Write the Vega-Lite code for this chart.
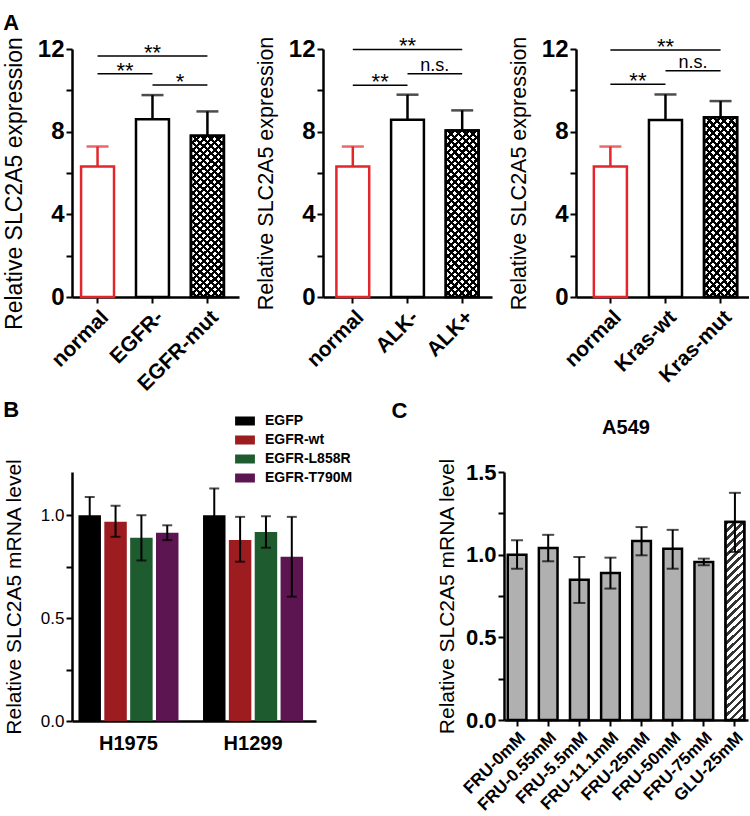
{
"$schema": "https://vega.github.io/schema/vega-lite/v6.json",
"background": "white",
"padding": {"left": 3, "top": 12, "right": 0, "bottom": 0},
"spacing": 4,
"columns": 1,
"align": "none",
"resolve": {"scale": {"color": "independent", "stroke": "independent"}, "legend": {"color": "independent", "stroke": "independent"}},
"params": [
{"name": "hs", "value": [
{"offset":0,"color":"#000"},{"offset":0.0156,"color":"#000"},{"offset":0.0156,"color":"#0000"},{"offset":0.037,"color":"#0000"},
{"offset":0.037,"color":"#000"},{"offset":0.0526,"color":"#000"},{"offset":0.0526,"color":"#0000"},{"offset":0.0741,"color":"#0000"},
{"offset":0.0741,"color":"#000"},{"offset":0.0897,"color":"#000"},{"offset":0.0897,"color":"#0000"},{"offset":0.1111,"color":"#0000"},
{"offset":0.1111,"color":"#000"},{"offset":0.1267,"color":"#000"},{"offset":0.1267,"color":"#0000"},{"offset":0.1481,"color":"#0000"},
{"offset":0.1481,"color":"#000"},{"offset":0.1637,"color":"#000"},{"offset":0.1637,"color":"#0000"},{"offset":0.1852,"color":"#0000"},
{"offset":0.1852,"color":"#000"},{"offset":0.2008,"color":"#000"},{"offset":0.2008,"color":"#0000"},{"offset":0.2222,"color":"#0000"},
{"offset":0.2222,"color":"#000"},{"offset":0.2378,"color":"#000"},{"offset":0.2378,"color":"#0000"},{"offset":0.2593,"color":"#0000"},
{"offset":0.2593,"color":"#000"},{"offset":0.2749,"color":"#000"},{"offset":0.2749,"color":"#0000"},{"offset":0.2963,"color":"#0000"},
{"offset":0.2963,"color":"#000"},{"offset":0.3119,"color":"#000"},{"offset":0.3119,"color":"#0000"},{"offset":0.3333,"color":"#0000"},
{"offset":0.3333,"color":"#000"},{"offset":0.3489,"color":"#000"},{"offset":0.3489,"color":"#0000"},{"offset":0.3704,"color":"#0000"},
{"offset":0.3704,"color":"#000"},{"offset":0.386,"color":"#000"},{"offset":0.386,"color":"#0000"},{"offset":0.4074,"color":"#0000"},
{"offset":0.4074,"color":"#000"},{"offset":0.423,"color":"#000"},{"offset":0.423,"color":"#0000"},{"offset":0.4444,"color":"#0000"},
{"offset":0.4444,"color":"#000"},{"offset":0.46,"color":"#000"},{"offset":0.46,"color":"#0000"},{"offset":0.4815,"color":"#0000"},
{"offset":0.4815,"color":"#000"},{"offset":0.4971,"color":"#000"},{"offset":0.4971,"color":"#0000"},{"offset":0.5185,"color":"#0000"},
{"offset":0.5185,"color":"#000"},{"offset":0.5341,"color":"#000"},{"offset":0.5341,"color":"#0000"},{"offset":0.5556,"color":"#0000"},
{"offset":0.5556,"color":"#000"},{"offset":0.5712,"color":"#000"},{"offset":0.5712,"color":"#0000"},{"offset":0.5926,"color":"#0000"},
{"offset":0.5926,"color":"#000"},{"offset":0.6082,"color":"#000"},{"offset":0.6082,"color":"#0000"},{"offset":0.6296,"color":"#0000"},
{"offset":0.6296,"color":"#000"},{"offset":0.6452,"color":"#000"},{"offset":0.6452,"color":"#0000"},{"offset":0.6667,"color":"#0000"},
{"offset":0.6667,"color":"#000"},{"offset":0.6823,"color":"#000"},{"offset":0.6823,"color":"#0000"},{"offset":0.7037,"color":"#0000"},
{"offset":0.7037,"color":"#000"},{"offset":0.7193,"color":"#000"},{"offset":0.7193,"color":"#0000"},{"offset":0.7407,"color":"#0000"},
{"offset":0.7407,"color":"#000"},{"offset":0.7563,"color":"#000"},{"offset":0.7563,"color":"#0000"},{"offset":0.7778,"color":"#0000"},
{"offset":0.7778,"color":"#000"},{"offset":0.7934,"color":"#000"},{"offset":0.7934,"color":"#0000"},{"offset":0.8148,"color":"#0000"},
{"offset":0.8148,"color":"#000"},{"offset":0.8304,"color":"#000"},{"offset":0.8304,"color":"#0000"},{"offset":0.8519,"color":"#0000"},
{"offset":0.8519,"color":"#000"},{"offset":0.8675,"color":"#000"},{"offset":0.8675,"color":"#0000"},{"offset":0.8889,"color":"#0000"},
{"offset":0.8889,"color":"#000"},{"offset":0.9045,"color":"#000"},{"offset":0.9045,"color":"#0000"},{"offset":0.9259,"color":"#0000"},
{"offset":0.9259,"color":"#000"},{"offset":0.9415,"color":"#000"},{"offset":0.9415,"color":"#0000"},{"offset":0.963,"color":"#0000"},
{"offset":0.963,"color":"#000"},{"offset":0.9786,"color":"#000"},{"offset":0.9786,"color":"#0000"},{"offset":1,"color":"#0000"}
]},
{"name": "xh1", "expr": "{gradient: 'linear', x1: 0, y1: 0, x2: 0.2308, y2: 1.1538, stops: hs}"},
{"name": "xh2", "expr": "{gradient: 'linear', x1: 1, y1: 0, x2: 0.7692, y2: 1.1538, stops: hs}"},
{"name": "gs", "expr": "{gradient: 'linear', x1: 0, y1: 0, x2: 0.1003, y2: 1.0836, stops: hs}"}
],
"config": {
"font": "Liberation Sans",
"view": {"stroke": null},
"axis": {"domainColor": "#000", "domainWidth": 2.5, "tickColor": "#000", "tickWidth": 2, "tickSize": 6, "labelColor": "#000", "titleColor": "#000", "grid": false, "titleFontWeight": "normal", "labelOverlap": false, "labelFlush": false, "titlePadding": 8, "labelPadding": 2},
"title": {"color": "#000", "fontWeight": "bold"}
},
"datasets": {
"a1": [{"cat":"normal","mean":6.32,"hi":7.28},{"cat":"EGFR-","mean":8.6,"hi":9.77},{"cat":"EGFR-mut","mean":7.8,"hi":8.98}],
"s1": [{"from":"normal","to":"EGFR-mut","mid":"EGFR-","y":11.66,"label":"**","kind":"wide"},{"from":"normal","to":"EGFR-","y":10.8,"label":"**","kind":"pair"},{"from":"EGFR-","to":"EGFR-mut","y":10.26,"label":"*","kind":"pair"}],
"a2": [{"cat":"normal","mean":6.32,"hi":7.28},{"cat":"ALK-","mean":8.58,"hi":9.79},{"cat":"ALK+","mean":8.06,"hi":9.03}],
"s2": [{"from":"normal","to":"ALK+","mid":"ALK-","y":11.98,"label":"**","kind":"wide"},{"from":"normal","to":"ALK-","y":10.24,"label":"**","kind":"pair"},{"from":"ALK-","to":"ALK+","y":10.8,"label":"n.s.","kind":"pair"}],
"a3": [{"cat":"normal","mean":6.32,"hi":7.28},{"cat":"Kras-wt","mean":8.57,"hi":9.8},{"cat":"Kras-mut","mean":8.7,"hi":9.48}],
"s3": [{"from":"normal","to":"Kras-mut","mid":"Kras-wt","y":11.95,"label":"**","kind":"wide"},{"from":"normal","to":"Kras-wt","y":10.3,"label":"**","kind":"pair"},{"from":"Kras-wt","to":"Kras-mut","y":10.95,"label":"n.s.","kind":"pair"}],
"b": [
{"cell":"H1975","grp":"EGFP","mean":1.0,"lo":0.91,"hi":1.089},
{"cell":"H1975","grp":"EGFR-wt","mean":0.968,"lo":0.895,"hi":1.046},
{"cell":"H1975","grp":"EGFR-L858R","mean":0.89,"lo":0.78,"hi":1.0},
{"cell":"H1975","grp":"EGFR-T790M","mean":0.915,"lo":0.879,"hi":0.951},
{"cell":"H1299","grp":"EGFP","mean":1.0,"lo":0.87,"hi":1.13},
{"cell":"H1299","grp":"EGFR-wt","mean":0.879,"lo":0.774,"hi":0.992},
{"cell":"H1299","grp":"EGFR-L858R","mean":0.919,"lo":0.842,"hi":0.995},
{"cell":"H1299","grp":"EGFR-T790M","mean":0.798,"lo":0.604,"hi":0.992}
],
"c": [
{"cat":"FRU-0mM","mean":1.0,"lo":0.915,"hi":1.087},
{"cat":"FRU-0.55mM","mean":1.04,"lo":0.96,"hi":1.12},
{"cat":"FRU-5.5mM","mean":0.849,"lo":0.708,"hi":0.986},
{"cat":"FRU-11.1mM","mean":0.889,"lo":0.795,"hi":0.982},
{"cat":"FRU-25mM","mean":1.082,"lo":0.996,"hi":1.167},
{"cat":"FRU-50mM","mean":1.036,"lo":0.915,"hi":1.15},
{"cat":"FRU-75mM","mean":0.956,"lo":0.936,"hi":0.976},
{"cat":"GLU-25mM","mean":1.197,"lo":1.016,"hi":1.374}
]
},
"concat": [
{
"resolve": {"scale": {"color": "independent", "stroke": "independent"}, "legend": {"color": "independent", "stroke": "independent"}},
"hconcat": [
{
"width": 167, "height": 248,
"layer": [
{"data":{"name":"a1"},"mark":{"type":"bar","fill":"white","strokeWidth":2.5},
 "encoding":{
  "x":{"field":"cat","type":"nominal","scale":{"domain":["normal","EGFR-","EGFR-mut"],"paddingInner":0.4,"paddingOuter":0.22,"align":0.375},"axis":{"title":null,"labelAngle":-45,"labelFontSize":21,"labelFontWeight":"bold","labelPadding":3}},
  "y":{"field":"mean","type":"quantitative","scale":{"domain":[0,12],"nice":false},"axis":{"title":"Relative SLC2A5 expression","titleFontSize":23,"titlePadding":11,"titleY":134,"values":[0,2,4,6,8,10,12],"labelExpr":"datum.value % 4 === 0 ? datum.label : ''","labelFontSize":24,"labelFontWeight":"bold"}},
  "stroke":{"field":"cat","type":"nominal","scale":{"domain":["normal","EGFR-","EGFR-mut"],"range":["#e3262b","#000000","#000000"]},"legend":null}}},
{"data":{"name":"a1"},"transform":[{"filter":"datum.cat === 'EGFR-mut'"}],"mark":{"type":"bar","fill":{"expr":"xh1"}},
 "encoding":{"x":{"field":"cat","type":"nominal"},"y":{"field":"mean","type":"quantitative"}}},
{"data":{"name":"a1"},"transform":[{"filter":"datum.cat === 'EGFR-mut'"}],"mark":{"type":"bar","fill":{"expr":"xh2"},"stroke":"#000","strokeWidth":2.5},
 "encoding":{"x":{"field":"cat","type":"nominal"},"y":{"field":"mean","type":"quantitative"}}},
{"data":{"name":"a1"},"mark":{"type":"rule","strokeWidth":2.5},
 "encoding":{"x":{"field":"cat","type":"nominal"},"y":{"field":"mean","type":"quantitative"},"y2":{"field":"hi"},
  "color":{"field":"cat","type":"nominal","scale":{"domain":["normal","EGFR-","EGFR-mut"],"range":["#e3262b","#000000","#000000"]},"legend":null}}},
{"data":{"name":"a1"},"mark":{"type":"tick","thickness":2.5,"size":22},
 "encoding":{"x":{"field":"cat","type":"nominal"},"y":{"field":"hi","type":"quantitative"},"color":{"field":"cat","type":"nominal","legend":null}}},
{"data":{"name":"s1"},"mark":{"type":"rule","strokeWidth":1.5,"color":"#000"},
 "encoding":{"x":{"field":"from","type":"nominal"},"x2":{"field":"to"},"y":{"field":"y","type":"quantitative"}}},
{"data":{"name":"s1"},"transform":[{"filter":"datum.kind === 'wide'"}],"mark":{"type":"text","fontSize":22,"baseline":"alphabetic","dy":4},
 "encoding":{"x":{"field":"mid","type":"nominal"},"y":{"field":"y","type":"quantitative"},"text":{"field":"label"}}},
{"data":{"name":"s1"},"transform":[{"filter":"datum.kind === 'pair' && datum.label !== 'n.s.'"}],"mark":{"type":"text","fontSize":22,"baseline":"alphabetic","dy":4},
 "encoding":{"x":{"field":"from","type":"nominal","bandPosition":1.333},"y":{"field":"y","type":"quantitative"},"text":{"field":"label"}}},
{"data":{"name":"s1"},"transform":[{"filter":"datum.label === 'n.s.'"}],"mark":{"type":"text","fontSize":18,"baseline":"alphabetic","dy":-3},
 "encoding":{"x":{"field":"from","type":"nominal","bandPosition":1.333},"y":{"field":"y","type":"quantitative"},"text":{"field":"label"}}}
]
},
{
"width": 169, "height": 248,
"layer": [
{"data":{"name":"a2"},"mark":{"type":"bar","fill":"white","strokeWidth":2.5},
 "encoding":{
  "x":{"field":"cat","type":"nominal","scale":{"domain":["normal","ALK-","ALK+"],"paddingInner":0.4,"paddingOuter":0.245},"axis":{"title":null,"labelAngle":-45,"labelFontSize":21,"labelFontWeight":"bold","labelPadding":3}},
  "y":{"field":"mean","type":"quantitative","scale":{"domain":[0,12],"nice":false},"axis":{"title":"Relative SLC2A5 expression","titleFontSize":21.5,"titlePadding":11,"values":[0,2,4,6,8,10,12],"labelExpr":"datum.value % 4 === 0 ? datum.label : ''","labelFontSize":24,"labelFontWeight":"bold"}},
  "stroke":{"field":"cat","type":"nominal","scale":{"domain":["normal","ALK-","ALK+"],"range":["#e3262b","#000000","#000000"]},"legend":null}}},
{"data":{"name":"a2"},"transform":[{"filter":"datum.cat === 'ALK+'"}],"mark":{"type":"bar","fill":{"expr":"xh1"}},
 "encoding":{"x":{"field":"cat","type":"nominal"},"y":{"field":"mean","type":"quantitative"}}},
{"data":{"name":"a2"},"transform":[{"filter":"datum.cat === 'ALK+'"}],"mark":{"type":"bar","fill":{"expr":"xh2"},"stroke":"#000","strokeWidth":2.5},
 "encoding":{"x":{"field":"cat","type":"nominal"},"y":{"field":"mean","type":"quantitative"}}},
{"data":{"name":"a2"},"mark":{"type":"rule","strokeWidth":2.5},
 "encoding":{"x":{"field":"cat","type":"nominal"},"y":{"field":"mean","type":"quantitative"},"y2":{"field":"hi"},
  "color":{"field":"cat","type":"nominal","scale":{"domain":["normal","ALK-","ALK+"],"range":["#e3262b","#000000","#000000"]},"legend":null}}},
{"data":{"name":"a2"},"mark":{"type":"tick","thickness":2.5,"size":22},
 "encoding":{"x":{"field":"cat","type":"nominal"},"y":{"field":"hi","type":"quantitative"},"color":{"field":"cat","type":"nominal","legend":null}}},
{"data":{"name":"s2"},"mark":{"type":"rule","strokeWidth":1.5,"color":"#000"},
 "encoding":{"x":{"field":"from","type":"nominal"},"x2":{"field":"to"},"y":{"field":"y","type":"quantitative"}}},
{"data":{"name":"s2"},"transform":[{"filter":"datum.kind === 'wide'"}],"mark":{"type":"text","fontSize":22,"baseline":"alphabetic","dy":4},
 "encoding":{"x":{"field":"mid","type":"nominal"},"y":{"field":"y","type":"quantitative"},"text":{"field":"label"}}},
{"data":{"name":"s2"},"transform":[{"filter":"datum.kind === 'pair' && datum.label !== 'n.s.'"}],"mark":{"type":"text","fontSize":22,"baseline":"alphabetic","dy":4},
 "encoding":{"x":{"field":"from","type":"nominal","bandPosition":1.333},"y":{"field":"y","type":"quantitative"},"text":{"field":"label"}}},
{"data":{"name":"s2"},"transform":[{"filter":"datum.label === 'n.s.'"}],"mark":{"type":"text","fontSize":18,"baseline":"alphabetic","dy":-3},
 "encoding":{"x":{"field":"from","type":"nominal","bandPosition":1.333},"y":{"field":"y","type":"quantitative"},"text":{"field":"label"}}}
]
},
{
"width": 173, "height": 248,
"layer": [
{"data":{"name":"a3"},"mark":{"type":"bar","fill":"white","strokeWidth":2.5},
 "encoding":{
  "x":{"field":"cat","type":"nominal","scale":{"domain":["normal","Kras-wt","Kras-mut"],"paddingInner":0.4,"paddingOuter":0.27,"align":0.6},"axis":{"title":null,"labelAngle":-45,"labelFontSize":21,"labelFontWeight":"bold","labelPadding":3}},
  "y":{"field":"mean","type":"quantitative","scale":{"domain":[0,12],"nice":false},"axis":{"title":"Relative SLC2A5 expression","titleFontSize":21.5,"titlePadding":11,"values":[0,2,4,6,8,10,12],"labelExpr":"datum.value % 4 === 0 ? datum.label : ''","labelFontSize":24,"labelFontWeight":"bold"}},
  "stroke":{"field":"cat","type":"nominal","scale":{"domain":["normal","Kras-wt","Kras-mut"],"range":["#e3262b","#000000","#000000"]},"legend":null}}},
{"data":{"name":"a3"},"transform":[{"filter":"datum.cat === 'Kras-mut'"}],"mark":{"type":"bar","fill":{"expr":"xh1"}},
 "encoding":{"x":{"field":"cat","type":"nominal"},"y":{"field":"mean","type":"quantitative"}}},
{"data":{"name":"a3"},"transform":[{"filter":"datum.cat === 'Kras-mut'"}],"mark":{"type":"bar","fill":{"expr":"xh2"},"stroke":"#000","strokeWidth":2.5},
 "encoding":{"x":{"field":"cat","type":"nominal"},"y":{"field":"mean","type":"quantitative"}}},
{"data":{"name":"a3"},"mark":{"type":"rule","strokeWidth":2.5},
 "encoding":{"x":{"field":"cat","type":"nominal"},"y":{"field":"mean","type":"quantitative"},"y2":{"field":"hi"},
  "color":{"field":"cat","type":"nominal","scale":{"domain":["normal","Kras-wt","Kras-mut"],"range":["#e3262b","#000000","#000000"]},"legend":null}}},
{"data":{"name":"a3"},"mark":{"type":"tick","thickness":2.5,"size":22},
 "encoding":{"x":{"field":"cat","type":"nominal"},"y":{"field":"hi","type":"quantitative"},"color":{"field":"cat","type":"nominal","legend":null}}},
{"data":{"name":"s3"},"mark":{"type":"rule","strokeWidth":1.5,"color":"#000"},
 "encoding":{"x":{"field":"from","type":"nominal"},"x2":{"field":"to"},"y":{"field":"y","type":"quantitative"}}},
{"data":{"name":"s3"},"transform":[{"filter":"datum.kind === 'wide'"}],"mark":{"type":"text","fontSize":22,"baseline":"alphabetic","dy":4},
 "encoding":{"x":{"field":"mid","type":"nominal"},"y":{"field":"y","type":"quantitative"},"text":{"field":"label"}}},
{"data":{"name":"s3"},"transform":[{"filter":"datum.kind === 'pair' && datum.label !== 'n.s.'"}],"mark":{"type":"text","fontSize":22,"baseline":"alphabetic","dy":4},
 "encoding":{"x":{"field":"from","type":"nominal","bandPosition":1.333},"y":{"field":"y","type":"quantitative"},"text":{"field":"label"}}},
{"data":{"name":"s3"},"transform":[{"filter":"datum.label === 'n.s.'"}],"mark":{"type":"text","fontSize":18,"baseline":"alphabetic","dy":-3},
 "encoding":{"x":{"field":"from","type":"nominal","bandPosition":1.333},"y":{"field":"y","type":"quantitative"},"text":{"field":"label"}}}
]
}
],
"bounds": "flush",
"spacing": 84,
"title": {"text": "A", "anchor": "start", "frame": "bounds", "fontSize": 22, "fontWeight": "bold", "offset": 0}
},
{
"resolve": {"scale": {"color": "independent", "stroke": "independent"}, "legend": {"color": "independent", "stroke": "independent"}},
"hconcat": [
{
"width": 244, "height": 249,
"title": {"text": "B", "anchor": "start", "frame": "bounds", "fontSize": 22, "fontWeight": "bold", "offset": -10},
"layer": [
{"data":{"name":"b"},"mark":{"type":"bar"},
 "encoding":{
  "x":{"field":"cell","type":"nominal","scale":{"domain":["H1975","H1299"],"paddingInner":0.197,"paddingOuter":0.078,"align":0.333},"axis":{"title":null,"labelAngle":0,"labelFontSize":20,"labelFontWeight":"bold","ticks":false,"labelPadding":12,"labelDx":-11}},
  "xOffset":{"field":"grp","type":"nominal","scale":{"domain":["EGFP","EGFR-wt","EGFR-L858R","EGFR-T790M"],"paddingInner":0.13}},
  "y":{"field":"mean","type":"quantitative","scale":{"domain":[0,1.21],"nice":false},"axis":{"title":"Relative SLC2A5 mRNA level","titleFontSize":21,"titlePadding":16,"values":[0,0.25,0.5,0.75,1],"format":".1f","labelExpr":"(datum.value * 4) % 2 === 0 ? datum.label : ''","labelFontSize":17}},
  "color":{"field":"grp","type":"nominal","scale":{"domain":["EGFP","EGFR-wt","EGFR-L858R","EGFR-T790M"],"range":["#000000","#9d1c20","#1e5b2f","#5c1551"]},
   "legend":{"title":null,"orient":"none","legendX":164,"legendY":-60,"labelFontSize":14,"labelFontWeight":"bold","labelColor":"#000","symbolType":"M-1.1,-0.5H1.1V0.5H-1.1Z","symbolSize":324,"symbolStrokeWidth":0,"rowPadding":3,"labelOffset":11,"padding":0}}}},
{"data":{"name":"b"},"mark":{"type":"rule","strokeWidth":2,"color":"#000"},
 "encoding":{"x":{"field":"cell","type":"nominal"},"xOffset":{"field":"grp","type":"nominal"},"y":{"field":"lo","type":"quantitative"},"y2":{"field":"hi"}}},
{"data":{"name":"b"},"mark":{"type":"tick","thickness":2,"size":10,"color":"#000"},
 "encoding":{"x":{"field":"cell","type":"nominal"},"xOffset":{"field":"grp","type":"nominal"},"y":{"field":"hi","type":"quantitative"}}},
{"data":{"name":"b"},"mark":{"type":"tick","thickness":2,"size":10,"color":"#000"},
 "encoding":{"x":{"field":"cell","type":"nominal"},"xOffset":{"field":"grp","type":"nominal"},"y":{"field":"lo","type":"quantitative"}}}
]
},
{
"vconcat": [
{
"width": 244, "height": 248,
"title": {"text": "A549", "fontSize": 20, "fontWeight": "bold", "anchor": "middle", "frame": "group", "offset": 20},
"layer": [
{"data":{"name":"c"},"mark":{"type":"bar","fill":"#b0b0b0","stroke":"#000","strokeWidth":2.5},
 "encoding":{
  "x":{"field":"cat","type":"nominal","scale":{"domain":["FRU-0mM","FRU-0.55mM","FRU-5.5mM","FRU-11.1mM","FRU-25mM","FRU-50mM","FRU-75mM","GLU-25mM"],"paddingInner":0.4,"paddingOuter":0.12},"axis":{"title":null,"labelAngle":-45,"labelFontSize":17,"labelFontWeight":"bold","labelPadding":3}},
  "y":{"field":"mean","type":"quantitative","scale":{"domain":[0,1.5],"nice":false},"axis":{"title":"Relative SLC2A5 mRNA level","titleFontSize":21,"values":[0,0.25,0.5,0.75,1,1.25,1.5],"format":".1f","labelExpr":"(datum.value * 4) % 2 === 0 ? datum.label : ''","labelFontSize":22,"labelFontWeight":"bold"}}}},
{"data":{"name":"c"},"transform":[{"filter":"datum.cat === 'GLU-25mM'"}],"mark":{"type":"bar","fill":"white"},
 "encoding":{"x":{"field":"cat","type":"nominal"},"y":{"field":"mean","type":"quantitative"}}},
{"data":{"name":"c"},"transform":[{"filter":"datum.cat === 'GLU-25mM'"}],"mark":{"type":"bar","fill":{"expr":"gs"},"fillOpacity":0.8,"stroke":"#000","strokeWidth":2.5},
 "encoding":{"x":{"field":"cat","type":"nominal"},"y":{"field":"mean","type":"quantitative"}}},
{"data":{"name":"c"},"mark":{"type":"rule","strokeWidth":2,"color":"#000"},
 "encoding":{"x":{"field":"cat","type":"nominal"},"y":{"field":"lo","type":"quantitative"},"y2":{"field":"hi"}}},
{"data":{"name":"c"},"mark":{"type":"tick","thickness":2,"size":12,"color":"#000"},
 "encoding":{"x":{"field":"cat","type":"nominal"},"y":{"field":"hi","type":"quantitative"}}},
{"data":{"name":"c"},"mark":{"type":"tick","thickness":2,"size":12,"color":"#000"},
 "encoding":{"x":{"field":"cat","type":"nominal"},"y":{"field":"lo","type":"quantitative"}}}
]
}
],
"title": {"text": "C", "anchor": "start", "frame": "bounds", "fontSize": 22, "fontWeight": "bold", "offset": -5, "dx": -45}
}
],
"spacing": 38
}
]
}
